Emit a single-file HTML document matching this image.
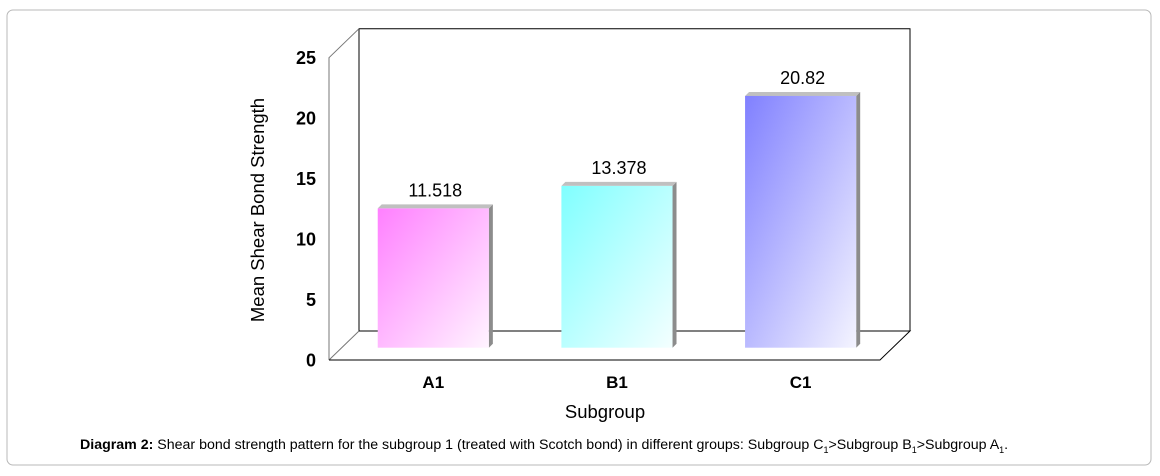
<!DOCTYPE html>
<html><head><meta charset="utf-8"><style>
body{margin:0;background:#fff;width:1160px;height:471px;overflow:hidden;font-family:"Liberation Sans",Arial,sans-serif}
</style></head><body>
<svg width="1160" height="471" viewBox="0 0 1160 471" xmlns="http://www.w3.org/2000/svg" font-family="Liberation Sans, Arial, sans-serif">
<defs>
<linearGradient id="gA" x1="0" y1="0" x2="1" y2="1"><stop offset="0" stop-color="#ff80ff"/><stop offset="1" stop-color="#fff4ff"/></linearGradient>
<linearGradient id="gB" x1="0" y1="0" x2="1" y2="1"><stop offset="0" stop-color="#80ffff"/><stop offset="1" stop-color="#f4ffff"/></linearGradient>
<linearGradient id="gC" x1="0" y1="0" x2="1" y2="1"><stop offset="0" stop-color="#8080ff"/><stop offset="1" stop-color="#f4f4ff"/></linearGradient>
</defs>
<rect x="7" y="10" width="1144" height="455" rx="6" fill="#fff" stroke="#b8b8b8"/>
<g id="plot"></g>
<text x="605" y="418" font-size="18.5" text-anchor="middle">Subgroup</text>
<text transform="translate(264,210) rotate(-90)" font-size="18.5" text-anchor="middle">Mean Shear Bond Strength</text>
<text x="80" y="449" font-size="14.2"><tspan font-weight="bold">Diagram 2:</tspan> Shear bond strength pattern for the subgroup 1 (treated with Scotch bond) in different groups: Subgroup C<tspan font-size="9" dy="4">1</tspan><tspan dy="-4">&gt;Subgroup B</tspan><tspan font-size="9" dy="4">1</tspan><tspan dy="-4">&gt;Subgroup A</tspan><tspan font-size="9" dy="4">1</tspan><tspan dy="-4">.</tspan></text>
</svg>
<script>
const categories=["A1","B1","C1"];
const values=[11.518,13.378,20.82];
const valueLabels=["11.518","13.378","20.82"];
const yTicks=[0,5,10,15,20,25];
const fills=["url(#gA)","url(#gB)","url(#gC)"];
const NS="http://www.w3.org/2000/svg";
const g=document.getElementById("plot");
const fx0=329,fx1=880,fy0=360,fyTop=57.7,dx=30,dy=29,yMax=25;
const band=(fx1-fx0)/categories.length;
const scale=(fy0-fyTop)/yMax;
const yFront=v=>fy0-v*scale;
function mk(tag,attrs,parent){const e=document.createElementNS(NS,tag);for(const k in attrs)e.setAttribute(k,attrs[k]);(parent||g).appendChild(e);return e;}
let w=mk("path",{d:`M${fx0+dx},${fy0-dy} V${fyTop-dy} H${fx1+dx} V${fy0-dy}`,fill:"none",stroke:"#000","stroke-width":1});


let lw=mk("path",{d:`M${fx0},${fy0} V${fyTop} L${fx0+dx},${fyTop-dy} M${fx0},${fy0} L${fx0+dx},${fy0-dy}`,fill:"none",stroke:"#777","stroke-width":1});


let fl=mk("path",{d:`M${fx0+dx},${fy0-dy} H${fx1+dx} L${fx1},${fy0} H${fx0}`,fill:"none",stroke:"#000","stroke-width":1});


yTicks.forEach(t=>{
  const tx=mk("text",{x:316,y:yFront(t)+6.5,"font-size":18,"font-weight":"bold","text-anchor":"end"});
  tx.textContent=t;
  
  
});
const base=fy0-12.3, shift=12, bw=band*0.605;
categories.forEach((c,i)=>{
  const x=fx0+i*band+band*0.2+shift;
  const top=base-values[i]*scale;
  const side=mk("polygon",{points:`${x+bw},${top} ${x+bw+4},${top-4} ${x+bw+4},${base-4} ${x+bw},${base}`,fill:"#8c8c8c"});
  
  
  const tp=mk("polygon",{points:`${x},${top} ${x+4},${top-4} ${x+bw+4},${top-4} ${x+bw},${top}`,fill:"#c0c0c0"});
  
  
  const r=mk("rect",{x:x,y:top,width:bw,height:base-top,fill:fills[i]});
  
  
  const vl=mk("text",{x:x+bw/2+2,y:top-12,"font-size":18,"text-anchor":"middle"});
  vl.textContent=valueLabels[i];
  
  
  const cl=mk("text",{x:x+bw/2,y:388,"font-size":17,"font-weight":"bold","text-anchor":"middle"});
  cl.textContent=c;
  
  
});
</script>
</body></html>
